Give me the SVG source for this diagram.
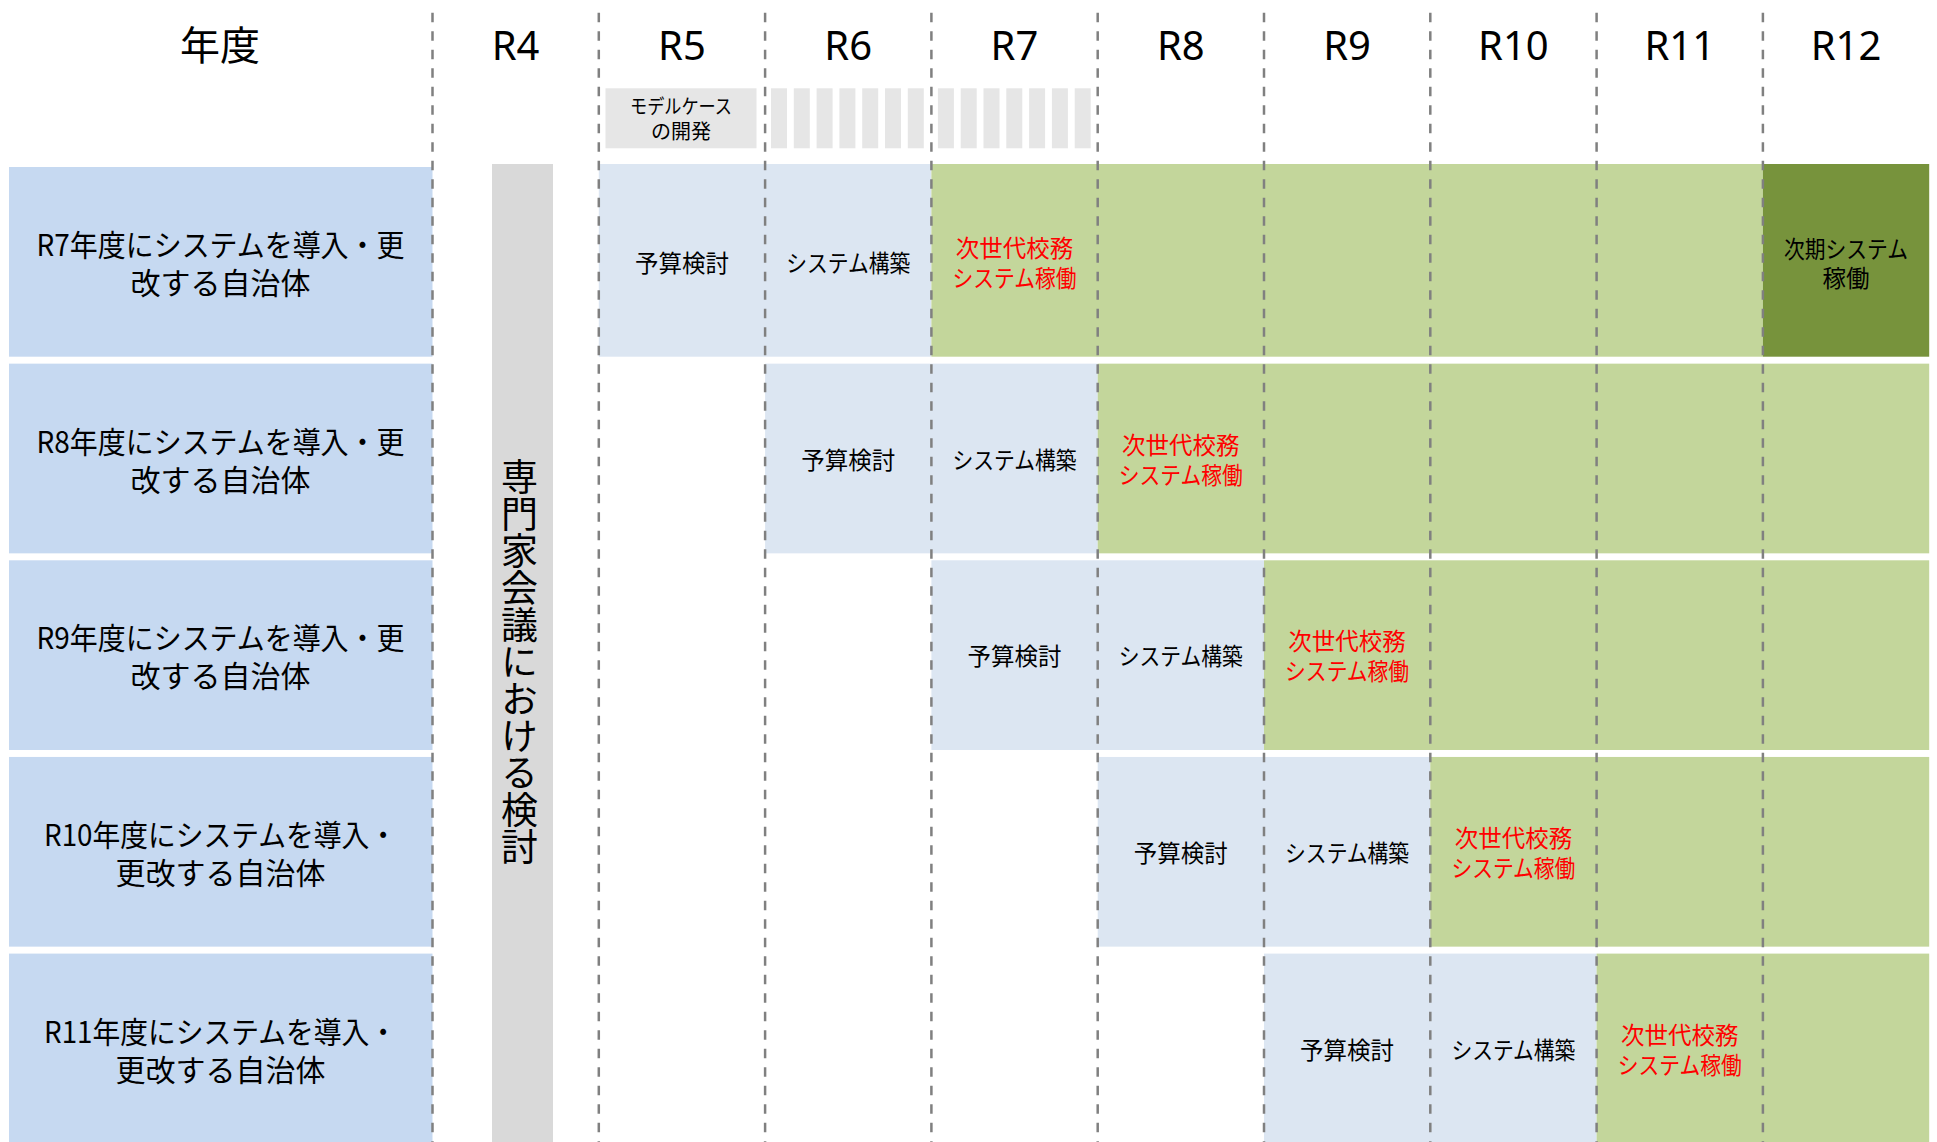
<svg xmlns="http://www.w3.org/2000/svg" width="1937" height="1142" viewBox="0 0 1937 1142">
<style>
text{font-family:"Noto Sans CJK JP","Noto Sans",sans-serif;fill:#000}
.hd{font-family:"Noto Sans","Noto Sans CJK JP",sans-serif;font-size:40px;text-anchor:middle}
.lbl{font-size:30px;text-anchor:middle;dominant-baseline:central}
.cell{font-size:23.5px;text-anchor:middle;dominant-baseline:central}
.red{fill:#FF0000}
.small{font-size:20px;text-anchor:middle;dominant-baseline:central}
.lb{fill:#C6D9F1}
.lc{fill:#DCE6F2}
.gr{fill:#C3D69B}
.dg{fill:#77933C}
.st{fill:#E6E6E6}
.grid line{stroke:#808080;stroke-width:2.5;stroke-dasharray:9.5 9}
</style>
<rect width="1937" height="1142" fill="#FFFFFF"/>

<g id="header">
  <text class="hd" x="220" y="60" font-family="Noto Sans CJK JP" font-size="39">年度</text>
  <text class="hd" x="515.6" y="60">R4</text>
  <text class="hd" x="681.9" y="60">R5</text>
  <text class="hd" x="848.2" y="60">R6</text>
  <text class="hd" x="1014.5" y="60">R7</text>
  <text class="hd" x="1180.8" y="60">R8</text>
  <text class="hd" x="1347.1" y="60">R9</text>
  <text class="hd" x="1513.4" y="60">R10</text>
  <text class="hd" x="1679.7" y="60">R11</text>
  <text class="hd" x="1846" y="60">R12</text>
</g>

<g id="model-case">
  <rect class="st" x="605.5" y="88.3" width="151" height="60"/>
  <text class="small"><tspan x="681" y="105" textLength="102" lengthAdjust="spacingAndGlyphs">モデルケース</tspan><tspan x="681" y="130">の開発</tspan></text>
</g>
<g id="stripes">
  <rect class="st" x="771" y="88.3" width="16" height="60"/>
  <rect class="st" x="793.8" y="88.3" width="16" height="60"/>
  <rect class="st" x="816.6" y="88.3" width="16" height="60"/>
  <rect class="st" x="839.4" y="88.3" width="16" height="60"/>
  <rect class="st" x="862.2" y="88.3" width="16" height="60"/>
  <rect class="st" x="885" y="88.3" width="16" height="60"/>
  <rect class="st" x="907.8" y="88.3" width="16" height="60"/>
  <rect class="st" x="937.9" y="88.3" width="16" height="60"/>
  <rect class="st" x="960.7" y="88.3" width="16" height="60"/>
  <rect class="st" x="983.5" y="88.3" width="16" height="60"/>
  <rect class="st" x="1006.3" y="88.3" width="16" height="60"/>
  <rect class="st" x="1029.1" y="88.3" width="16" height="60"/>
  <rect class="st" x="1051.9" y="88.3" width="16" height="60"/>
  <rect class="st" x="1074.7" y="88.3" width="16" height="60"/>
</g>

<g id="expert-meeting">
  <rect x="492" y="164" width="61" height="978" fill="#D9D9D9"/>
  <text x="519.5" y="662" style="writing-mode:vertical-rl" font-size="37" text-anchor="middle">専門家会議における検討</text>
</g>

<!-- Row R7 -->
<g id="row-r7">
  <rect class="lb" x="9" y="167" width="423.5" height="189.7"/>
  <text class="lbl"><tspan x="220.5" y="242.8" textLength="368" lengthAdjust="spacingAndGlyphs">R7年度にシステムを導入・更</tspan><tspan x="220.5" y="280.8">改する自治体</tspan></text>
  <rect class="lc" x="598.8" y="164" width="332.6" height="192.7"/>
  <rect class="gr" x="931.4" y="164" width="831.5" height="192.7"/>
  <rect class="dg" x="1762.9" y="164" width="166.3" height="192.7"/>
  <text class="cell" x="681.9" y="262">予算検討</text>
  <text class="cell" x="848.2" y="262" textLength="124" lengthAdjust="spacingAndGlyphs">システム構築</text>
  <text class="cell red"><tspan x="1014.5" y="247">次世代校務</tspan><tspan x="1014.5" y="277" textLength="124" lengthAdjust="spacingAndGlyphs">システム稼働</tspan></text>
  <text class="cell"><tspan x="1846" y="248" textLength="124" lengthAdjust="spacingAndGlyphs">次期システム</tspan><tspan x="1846" y="277">稼働</tspan></text>
</g>

<!-- Row R8 -->
<g id="row-r8">
  <rect class="lb" x="9" y="363.65" width="423.5" height="189.7"/>
  <text class="lbl"><tspan x="220.5" y="439.5" textLength="368" lengthAdjust="spacingAndGlyphs">R8年度にシステムを導入・更</tspan><tspan x="220.5" y="477.5">改する自治体</tspan></text>
  <rect class="lc" x="765.1" y="363.65" width="332.6" height="189.7"/>
  <rect class="gr" x="1097.7" y="363.65" width="831.5" height="189.7"/>
  <text class="cell" x="848.2" y="458.5">予算検討</text>
  <text class="cell" x="1014.5" y="458.5" textLength="124" lengthAdjust="spacingAndGlyphs">システム構築</text>
  <text class="cell red"><tspan x="1180.8" y="443.5">次世代校務</tspan><tspan x="1180.8" y="473.5" textLength="124" lengthAdjust="spacingAndGlyphs">システム稼働</tspan></text>
</g>

<!-- Row R9 -->
<g id="row-r9">
  <rect class="lb" x="9" y="560.3" width="423.5" height="189.7"/>
  <text class="lbl"><tspan x="220.5" y="636.1" textLength="368" lengthAdjust="spacingAndGlyphs">R9年度にシステムを導入・更</tspan><tspan x="220.5" y="674.1">改する自治体</tspan></text>
  <rect class="lc" x="931.4" y="560.3" width="332.6" height="189.7"/>
  <rect class="gr" x="1264" y="560.3" width="665.2" height="189.7"/>
  <text class="cell" x="1014.5" y="655.2">予算検討</text>
  <text class="cell" x="1180.8" y="655.2" textLength="124" lengthAdjust="spacingAndGlyphs">システム構築</text>
  <text class="cell red"><tspan x="1347.1" y="640.2">次世代校務</tspan><tspan x="1347.1" y="670.2" textLength="124" lengthAdjust="spacingAndGlyphs">システム稼働</tspan></text>
</g>

<!-- Row R10 -->
<g id="row-r10">
  <rect class="lb" x="9" y="756.95" width="423.5" height="189.7"/>
  <text class="lbl"><tspan x="220.5" y="832.8" textLength="353" lengthAdjust="spacingAndGlyphs">R10年度にシステムを導入・</tspan><tspan x="220.5" y="870.8">更改する自治体</tspan></text>
  <rect class="lc" x="1097.7" y="756.95" width="332.6" height="189.7"/>
  <rect class="gr" x="1430.3" y="756.95" width="498.9" height="189.7"/>
  <text class="cell" x="1180.8" y="851.8">予算検討</text>
  <text class="cell" x="1347.1" y="851.8" textLength="124" lengthAdjust="spacingAndGlyphs">システム構築</text>
  <text class="cell red"><tspan x="1513.4" y="836.8">次世代校務</tspan><tspan x="1513.4" y="866.8" textLength="124" lengthAdjust="spacingAndGlyphs">システム稼働</tspan></text>
</g>

<!-- Row R11 -->
<g id="row-r11">
  <rect class="lb" x="9" y="953.6" width="423.5" height="189.7"/>
  <text class="lbl"><tspan x="220.5" y="1029.5" textLength="353" lengthAdjust="spacingAndGlyphs">R11年度にシステムを導入・</tspan><tspan x="220.5" y="1067.5">更改する自治体</tspan></text>
  <rect class="lc" x="1264" y="953.6" width="332.6" height="189.7"/>
  <rect class="gr" x="1596.6" y="953.6" width="332.6" height="189.7"/>
  <text class="cell" x="1347.1" y="1048.5">予算検討</text>
  <text class="cell" x="1513.4" y="1048.5" textLength="124" lengthAdjust="spacingAndGlyphs">システム構築</text>
  <text class="cell red"><tspan x="1679.7" y="1033.5">次世代校務</tspan><tspan x="1679.7" y="1063.5" textLength="124" lengthAdjust="spacingAndGlyphs">システム稼働</tspan></text>
</g>

<g id="connectors" class="grid">
  <line x1="432.5" y1="12.7" x2="432.5" y2="1142"/>
  <line x1="598.8" y1="12.7" x2="598.8" y2="1142"/>
  <line x1="765.1" y1="12.7" x2="765.1" y2="1142"/>
  <line x1="931.4" y1="12.7" x2="931.4" y2="1142"/>
  <line x1="1097.7" y1="12.7" x2="1097.7" y2="1142"/>
  <line x1="1264" y1="12.7" x2="1264" y2="1142"/>
  <line x1="1430.3" y1="12.7" x2="1430.3" y2="1142"/>
  <line x1="1596.6" y1="12.7" x2="1596.6" y2="1142"/>
  <line x1="1762.9" y1="12.7" x2="1762.9" y2="1142"/>
</g>
</svg>
